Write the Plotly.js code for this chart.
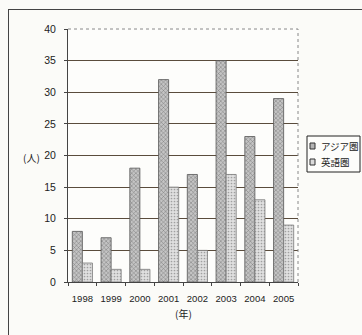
<!DOCTYPE html>
<html><head><meta charset="utf-8">
<script src="https://cdn.plot.ly/plotly-3.0.1.min.js"></script>
<style>
html,body{margin:0;padding:0;background:#fbfbf8;}
#frame{position:absolute;left:8px;top:9px;width:360px;height:340px;border-left:1px solid #444;border-top:1px solid #444;}
#chart{position:absolute;left:0;top:0;width:362px;height:335px;}
</style></head>
<body>
<div id="frame"></div>
<div id="chart"></div>
<script>
const years = ['1998','1999','2000','2001','2002','2003','2004','2005'];
const asiaValues = [8,7,18,32,17,35,23,29];
const englishValues = [3,2,2,15,5,17,13,9];
const seriesNames = ['アジア圏','英語圏'];
const yTicks = [0,5,10,15,20,25,30,35,40];

const font = "'Liberation Sans Narrow','Liberation Sans','Noto Sans CJK JP',sans-serif";
const cjk = "'Noto Sans CJK JP',sans-serif";
const fills = ['#b4b4b4','#dadada'];

const traces = [
  {type:'bar', x:years, y:asiaValues, name:seriesNames[0],
   marker:{color:fills[0], line:{color:'#555', width:0.8},
           pattern:{shape:'x', size:3, solidity:0.3, fgcolor:'#777', bgcolor:'#c4c4c4', fillmode:'replace'}}},
  {type:'bar', x:years, y:englishValues, name:seriesNames[1],
   marker:{color:fills[1], line:{color:'#777', width:0.8},
           pattern:{shape:'.', size:3, solidity:0.25, fgcolor:'#a0a0a0', bgcolor:'#e0e0e0', fillmode:'replace'}}}
];

// compact legend (box, swatches, labels) in paper coordinates
const pw = 230, ph = 253;            // plot area size in px
const px = v => (v - 68) / pw;       // px -> paper x
const py = v => (282 - v) / ph;      // px -> paper y
const legendShapes = [
  {type:'rect', xref:'paper', yref:'paper', x0:px(307), x1:px(360), y0:py(136), y1:py(172),
   line:{color:'#222', width:1}, fillcolor:'#fdfdfb', layer:'above'}
];
const legendAnn = [];
seriesNames.forEach((n,i) => {
  const cy = 146 + i*16;
  legendShapes.push({type:'rect', xref:'paper', yref:'paper', x0:px(310), x1:px(315), y0:py(cy-3), y1:py(cy+3),
    line:{color:'#333', width:1}, fillcolor:fills[i], layer:'above'});
  legendAnn.push({text:n, xref:'paper', yref:'paper', x:px(319), y:py(cy), xanchor:'left', yanchor:'middle',
    showarrow:false, font:{family:cjk, size:9.5, color:'#222'}});
});

const layout = {
  width:362, height:335,
  margin:{l:68, r:64, t:29, b:53, autoexpand:false},
  paper_bgcolor:'rgba(0,0,0,0)', plot_bgcolor:'#fdfdfb',
  barmode:'group', bargap:0.3, bargroupgap:0,
  font:{family:font, size:11, color:'#222'},
  showlegend:false,
  xaxis:{type:'category', showline:true, linecolor:'#444', linewidth:1,
         ticks:'outside', tickson:'boundaries', ticklen:3, tickcolor:'#444',
         tickangle:0, tickfont:{size:9.5}, ticklabelstandoff:8, showgrid:false},
  yaxis:{range:[0,40], tickvals:yTicks, showline:true, linecolor:'#444', linewidth:1,
         ticks:'outside', ticklen:3, tickcolor:'#444', tickfont:{size:10.5}, ticklabelstandoff:6,
         showgrid:true, gridcolor:'#5a4c3c', gridwidth:1, zeroline:false},
  shapes:[
    {type:'line', xref:'paper', yref:'paper', x0:0, x1:1, y0:1, y1:1, layer:'above', line:{color:'#fdfdfb', width:2}},
    {type:'line', xref:'paper', yref:'paper', x0:0, x1:1, y0:1, y1:1, layer:'above', line:{color:'#888', width:1, dash:'dot'}},
    {type:'line', xref:'paper', yref:'paper', x0:1, x1:1, y0:0, y1:1, layer:'above', line:{color:'#888', width:1, dash:'dot'}}
  ].concat(legendShapes),
  annotations:[
    {text:'(人)', xref:'paper', yref:'paper', x:px(42), y:py(157), xanchor:'right', yanchor:'middle', showarrow:false,
     font:{family:cjk, size:10, color:'#222'}},
    {text:'(年)', xref:'paper', yref:'paper', x:0.5, y:py(313), xanchor:'center', yanchor:'middle', showarrow:false,
     font:{family:cjk, size:10, color:'#222'}}
  ].concat(legendAnn)
};
Plotly.newPlot('chart', traces, layout, {displayModeBar:false, staticPlot:true});
</script>
</body></html>
